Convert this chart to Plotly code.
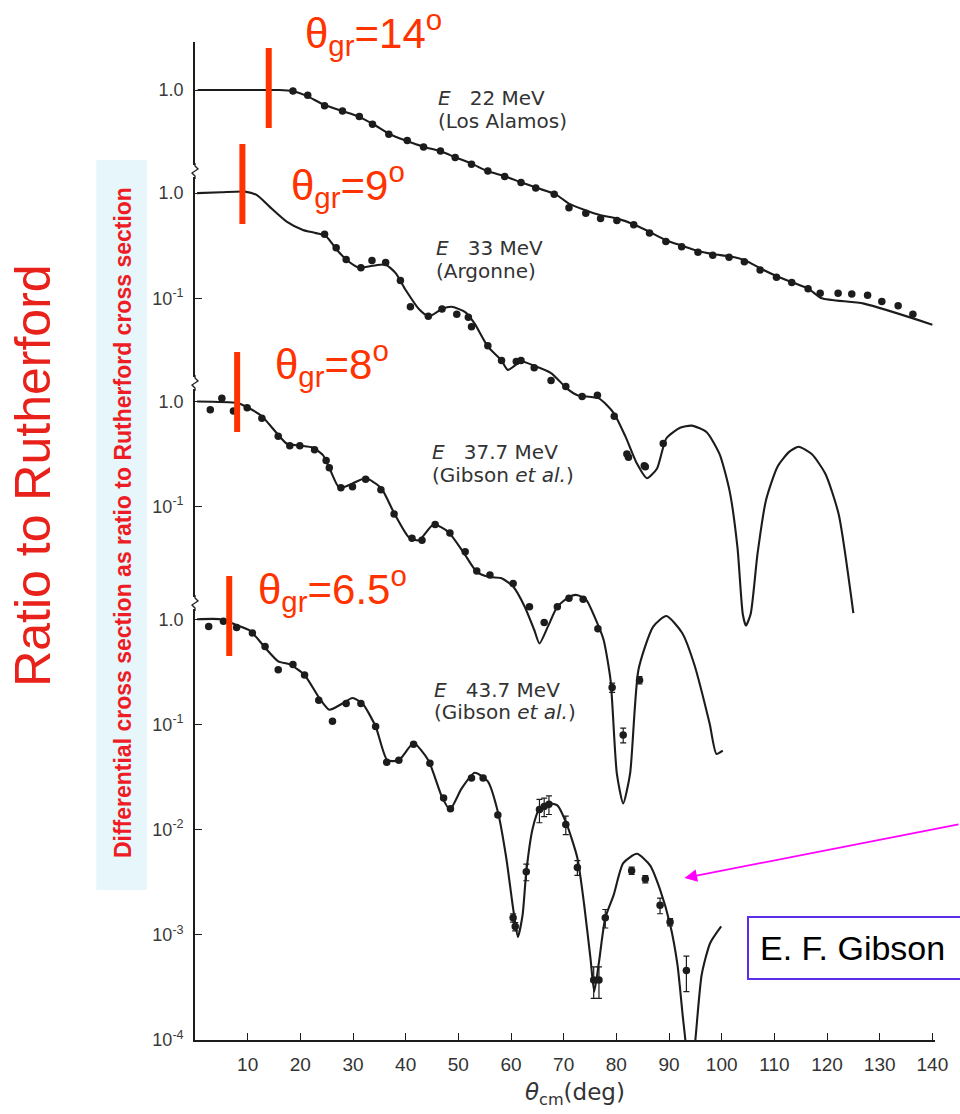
import plotly.graph_objects as go

# ---------------------------------------------------------------------------
# Elastic alpha scattering on 40Ca: ratio of dsigma/dOmega to Rutherford
# Each energy is drawn on one shared log axis, shifted by a number of decades.
# ---------------------------------------------------------------------------

# 22 MeV (Los Alamos)
th_22_fit = [0.5, 10, 16, 18.5, 21, 24.5, 28, 31, 34, 37, 40, 43.5, 46.5, 49.5, 52.5, 55.5,
             59, 62, 65, 68.5, 71, 74, 77, 80, 83, 86, 89.5, 92.5, 95.5, 98.5, 101.5, 104.5,
             107.5, 110.5, 113.5, 116.5, 119, 127, 140]
r_22_fit = [1.0, 1.0, 1.0, 0.977, 0.891, 0.724, 0.631, 0.562, 0.468, 0.380, 0.331, 0.288,
            0.263, 0.229, 0.200, 0.170, 0.151, 0.132, 0.117, 0.102, 0.0832, 0.0724, 0.0646,
            0.0603, 0.0537, 0.0457, 0.0372, 0.0331, 0.0295, 0.0275, 0.0263, 0.0240, 0.0200,
            0.0170, 0.0148, 0.0129, 0.0105, 0.00933, 0.00589]
th_22_exp = [18.6, 21.4, 24.6, 28.0, 31.2, 33.7, 36.8, 40.3, 43.4, 46.6, 49.4, 52.5, 55.6,
             58.8, 61.9, 64.7, 68.2, 71.0, 74.2, 77.0, 80.1, 83.3, 86.3, 89.4, 92.4, 95.5,
             98.3, 101.4, 104.3, 107.3, 110.4, 113.3, 116.4, 118.7, 122.1, 124.7, 127.7,
             130.4, 133.5, 136.3]
r_22_exp = [0.98, 0.891, 0.708, 0.634, 0.562, 0.473, 0.380, 0.331, 0.288, 0.263, 0.229,
            0.197, 0.170, 0.151, 0.132, 0.117, 0.102, 0.0759, 0.0676, 0.0603, 0.0575,
            0.0525, 0.0437, 0.0363, 0.0324, 0.0288, 0.0269, 0.0257, 0.0234, 0.0195, 0.0166,
            0.0148, 0.0129, 0.0117, 0.0117, 0.0115, 0.0112, 0.00977, 0.00891, 0.00741]

# 33 MeV (Argonne)
th_33_fit = [0.4, 5, 9.5, 11.7, 14.2, 17.4, 20.5, 23.0, 24.9, 26.8, 28.7, 31.2, 33.7, 36.2,
             38.1, 40.0, 42.5, 44.4, 46.9, 48.7, 51.3, 53.1, 55.6, 58.2, 59.4, 61.9, 64.4,
             67.6, 70.7, 72.6, 76.7, 79.5, 81.7, 83.9, 85.8, 87.7, 89.5, 92.1, 94.3, 97.1,
             99.6, 101.5, 103.0, 104.0, 104.6, 105.5, 106.8, 108.4, 110.6, 112.8, 114.6,
             117.1, 119.7, 122.2, 125.0]
r_33_fit = [1.0, 1.02, 1.035, 0.963, 0.741, 0.537, 0.447, 0.417, 0.389, 0.295, 0.234,
            0.195, 0.204, 0.209, 0.174, 0.120, 0.0794, 0.0676, 0.0794, 0.0832, 0.0741,
            0.0575, 0.0347, 0.0257, 0.0209, 0.0251, 0.0229, 0.0195, 0.0138, 0.0120, 0.0112,
            0.00813, 0.00490, 0.00269, 0.00195, 0.00240, 0.00468, 0.00589, 0.00617, 0.00537,
            0.00331, 0.00148, 0.000427, 0.0001, 0.0000776, 0.0001, 0.000372, 0.00120,
            0.00251, 0.00347, 0.00389, 0.00331, 0.00214, 0.000891, 0.000102]
th_33_exp = [24.6, 26.8, 28.7, 31.5, 33.6, 36.2, 39.0, 40.9, 44.3, 46.9, 49.7, 51.9, 52.5,
             55.6, 58.2, 61.0, 61.9, 64.4, 67.6, 70.4, 73.5, 76.4, 79.6, 82.0, 82.3, 85.3,
             85.5, 88.9]
r_33_exp = [0.407, 0.302, 0.234, 0.195, 0.229, 0.219, 0.148, 0.0832, 0.0676, 0.0794, 0.0708,
            0.0661, 0.0537, 0.0355, 0.0257, 0.0251, 0.0257, 0.0219, 0.0166, 0.0145, 0.0117,
            0.0120, 0.00759, 0.00331, 0.00309, 0.00257, 0.00251, 0.00417]

# 37.7 MeV (Gibson et al.)
th_37_fit = [0.4, 8.0, 10.1, 12.7, 15.5, 17.4, 19.9, 22.4, 24.3, 25.5, 27.4, 29.9, 32.4,
             35.3, 37.8, 40.6, 42.5, 45.3, 48.1, 50.9, 53.5, 56.0, 58.2, 60.4, 62.6, 64.4,
             65.4, 67.0, 68.8, 70.7, 72.3, 74.2, 76.4, 77.6, 78.9, 80.1, 81.3, 82.6, 84.2,
             87.0, 89.5, 92.5, 94.8, 97.7, 99.0, 100.2]
r_37_fit = [1.0, 0.966, 0.871, 0.724, 0.501, 0.398, 0.380, 0.363, 0.309, 0.234, 0.151,
            0.166, 0.186, 0.151, 0.0871, 0.0513, 0.0479, 0.0676, 0.0575, 0.0372, 0.0240,
            0.0214, 0.0209, 0.0174, 0.0112, 0.00676, 0.00501, 0.00724, 0.0112, 0.0135,
            0.0145, 0.0132, 0.00776, 0.00537, 0.00224, 0.000288, 0.000151, 0.000288,
            0.00282, 0.00724, 0.00912, 0.0063, 0.00316, 0.000871, 0.000447, 0.000479]
th_37_exp = [2.9, 5.1, 7.3, 9.9, 12.7, 15.8, 18.0, 19.9, 22.7, 24.9, 25.5, 27.7, 29.9, 32.4,
             35.3, 37.8, 41.2, 43.1, 45.6, 48.4, 51.3, 53.5, 56.0, 60.4, 63.5, 66.3, 68.8,
             71.0, 73.7, 76.5, 79.2, 81.3, 84.4]
r_37_exp = [0.832, 1.07, 0.813, 0.871, 0.692, 0.468, 0.380, 0.380, 0.347, 0.275, 0.234,
            0.151, 0.155, 0.182, 0.145, 0.0851, 0.0501, 0.0479, 0.0676, 0.0562, 0.0372,
            0.0245, 0.0224, 0.0186, 0.0112, 0.00794, 0.0112, 0.0135, 0.0132, 0.00692,
            0.00191, 0.000676, 0.00224]
err_37_exp = [0] * 30 + [0.10, 0.16, 0.08]

# 43.7 MeV (Gibson et al.)
th_43_fit = [0.4, 4.8, 7.6, 10.5, 13.3, 15.8, 18.0, 20.8, 23.6, 25.5, 28.0, 29.9, 31.8,
             34.3, 36.5, 38.7, 41.5, 44.3, 46.9, 48.4, 50.6, 53.1, 55.6, 57.5, 59.1, 60.4,
             61.3, 62.2, 62.9, 64.1, 65.4, 67.0, 68.8, 70.5, 72.6, 73.9, 75.1, 75.8, 76.7,
             77.9, 79.5, 81.3, 83.9, 86.4, 88.3, 90.2, 91.6, 92.6, 93.1, 93.9, 95.0, 96.2,
             97.8, 99.9]
r_43_fit = [1.0, 1.0, 0.891, 0.776, 0.537, 0.398, 0.372, 0.295, 0.178, 0.138, 0.158, 0.178,
            0.158, 0.0955, 0.0457, 0.0457, 0.0661, 0.0457, 0.0204, 0.0155, 0.0245, 0.0347,
            0.0288, 0.0148, 0.00537, 0.00178, 0.000955, 0.00155, 0.00398, 0.0102, 0.0158,
            0.0178, 0.0170, 0.0115, 0.00537, 0.00191, 0.000589, 0.000288, 0.000550,
            0.00145, 0.00240, 0.00479, 0.00589, 0.00457, 0.00269, 0.00126, 0.00052,
            0.00017, 0.0001, 0.00003, 0.0001, 0.000417, 0.000832, 0.00120]
th_43_exp = [2.6, 5.4, 7.9, 10.9, 13.3, 15.8, 18.6, 20.8, 23.5, 26.1, 28.7, 31.5, 34.3,
             36.4, 38.7, 41.5, 44.6, 47.2, 48.5, 52.5, 54.7, 57.5, 60.4, 60.8, 62.9, 65.4,
             66.3, 67.2, 70.4, 72.6, 75.7, 76.7, 77.9, 82.9, 85.5, 88.3, 90.2, 93.3]
r_43_exp = [0.851, 0.955, 0.832, 0.741, 0.55, 0.331, 0.372, 0.295, 0.170, 0.107, 0.158,
            0.158, 0.0955, 0.0437, 0.0457, 0.0646, 0.0427, 0.0200, 0.0158, 0.0309, 0.0309,
            0.0138, 0.00145, 0.00120, 0.00398, 0.0155, 0.0166, 0.0174, 0.0112, 0.00437,
            0.000372, 0.000372, 0.00145, 0.00407, 0.00339, 0.00191, 0.00132, 0.000457]
err_43_exp = [0] * 22 + [0.09, 0.09, 0.18, 0.25, 0.20, 0.20, 0.20, 0.16, 0.33, 0.33, 0.20,
                         0.08, 0.08, 0.17, 0.08, 0.37]

# decade shift applied to each energy on the shared axis
shift_22, shift_33, shift_37, shift_43 = 5.03, 4.05, 2.07, 0.0

NB = "\u00a0"
energy_lines = [("<i>E</i>" + NB * 3 + "22 MeV", "(Los Alamos)"),
                ("<i>E</i>" + NB * 3 + "33 MeV", "(Argonne)"),
                ("<i>E</i>" + NB * 3 + "37.7 MeV", "(Gibson <i>et al.</i>)"),
                ("<i>E</i>" + NB * 3 + "43.7 MeV", "(Gibson <i>et al.</i>)")]
grazing_angles = [14, 9, 8, 6.5]
grazing_texts = ["14", "9", "8", "6.5"]

x_ticks = list(range(10, 150, 10))
y_tick_text = ["1.0", "1.0", "10<sup>-1</sup>", "1.0", "10<sup>-1</sup>", "1.0",
               "10<sup>-1</sup>", "10<sup>-2</sup>", "10<sup>-3</sup>", "10<sup>-4</sup>"]

# ---------------------------------------------------------------------------
W, H = 960, 1114
ML, MR, MT, MB = 194.5, 19.4, 42, 74
X_RANGE = [0, 140.5]
Y_RANGE = [-4, 5.487]
INK = "#1c1c1c"
RED = "#FF3300"


def fx(px):
    return (px - ML) / (W - ML - MR)


def fy(py):
    return (H - MB - py) / (H - MT - MB)


fig = go.Figure()

series = [
    (th_22_fit, r_22_fit, th_22_exp, r_22_exp, None, shift_22),
    (th_33_fit, r_33_fit, th_33_exp, r_33_exp, None, shift_33),
    (th_37_fit, r_37_fit, th_37_exp, r_37_exp, err_37_exp, shift_37),
    (th_43_fit, r_43_fit, th_43_exp, r_43_exp, err_43_exp, shift_43),
]

for th_f, r_f, th_e, r_e, err, shift in series:
    k = 10 ** shift
    fig.add_trace(go.Scatter(
        x=th_f, y=[v * k for v in r_f], mode="lines",
        line=dict(color=INK, width=2.1, shape="spline", smoothing=0.6),
        hoverinfo="skip", showlegend=False))
    yv = [v * k for v in r_e]
    ey = None
    if err is not None:
        ey = dict(type="data", array=[y * e for y, e in zip(yv, err)],
                  arrayminus=[y * e for y, e in zip(yv, err)],
                  color=INK, thickness=1.2, width=3, visible=True)
    fig.add_trace(go.Scatter(
        x=th_e, y=yv, mode="markers",
        marker=dict(color=INK, size=7.5), error_y=ey,
        hoverinfo="skip", showlegend=False))

y_tick_vals = [10 ** shift_22, 10 ** shift_33, 10 ** (shift_33 - 1), 10 ** shift_37,
               10 ** (shift_37 - 1), 1, 0.1, 0.01, 0.001, 0.0001]

shapes = []
# light blue strip behind the original axis title
shapes.append(dict(type="rect", xref="paper", yref="paper",
                   x0=fx(95), x1=fx(146), y0=fy(890), y1=fy(160),
                   fillcolor="#e6f6fb", line=dict(width=0), layer="below"))

# axis breaks between the stacked panels
for py in (171, 383, 603):
    shapes.append(dict(type="rect", xref="paper", yref="paper",
                       xsizemode="pixel", ysizemode="pixel",
                       xanchor=0, yanchor=fy(py),
                       x0=-2, x1=2, y0=-6, y1=6,
                       fillcolor="white", line=dict(width=0), layer="above"))
    shapes.append(dict(type="path", xref="paper", yref="paper",
                       xsizemode="pixel", ysizemode="pixel",
                       xanchor=0, yanchor=fy(py),
                       path="M0,-8 L0,-5 L-3,-2 L3,2 L0,5 L0,8",
                       line=dict(color=INK, width=1.3), layer="above"))

# grazing-angle markers
bar_spans = [(48, 128), (144, 224), (352, 432), (576, 656)]
for ang, (top, bot) in zip(grazing_angles, bar_spans):
    shapes.append(dict(type="line", xref="x", yref="paper",
                       x0=ang, x1=ang, y0=fy(bot), y1=fy(top),
                       line=dict(color=RED, width=6), layer="above"))

annotations = []
grazing_pos = [(303, 33), (289, 185), (273, 363), (256, 588)]
for txt, (lx, cy) in zip(grazing_texts, grazing_pos):
    annotations.append(dict(
        xref="paper", yref="paper", x=fx(lx), y=fy(cy), xanchor="left", yanchor="middle",
        text="θ<sub>gr</sub>=" + txt + "<sup>o</sup>", showarrow=False,
        font=dict(family="Liberation Sans, Arial", size=42, color=RED)))

label_pos = [(437, 98, 121), (435, 248, 271), (431, 452, 475), (433, 690, 712)]
for (l1, l2), (lx, y1, y2) in zip(energy_lines, label_pos):
    for txt, cy in ((l1, y1), (l2, y2)):
        annotations.append(dict(
            xref="paper", yref="paper", x=fx(lx), y=fy(cy), xanchor="left",
            yanchor="middle", align="left", text=txt, showarrow=False,
            font=dict(family="DejaVu Sans", size=20, color="#333333")))

annotations.append(dict(
    xref="paper", yref="paper", x=fx(31), y=fy(476), xanchor="center", yanchor="middle",
    text="Ratio to Rutherford", textangle=-90, showarrow=False,
    font=dict(family="Liberation Sans, Arial", size=50, color="#E8211A")))

annotations.append(dict(
    xref="paper", yref="paper", x=fx(122), y=fy(523), xanchor="center", yanchor="middle",
    text="<b>Differential cross section as ratio to Rutherford cross section</b>",
    textangle=-90, showarrow=False,
    font=dict(family="Liberation Sans, Arial", size=23, color="#EE1C24")))

annotations.append(dict(
    xref="paper", yref="paper", x=fx(578), y=fy(1094), xanchor="center", yanchor="middle",
    text="<i>θ</i><sub>cm</sub>(deg)", showarrow=False,
    font=dict(family="DejaVu Sans", size=23, color="#333333")))

# pointer to the 43.7 MeV data near 85 degrees
annotations.append(dict(
    xref="paper", yref="paper", x=fx(688), y=fy(878), ax=290, ay=-54,
    axref="pixel", ayref="pixel", text="", showarrow=True,
    arrowhead=2, arrowsize=1.4, arrowwidth=1.8, arrowcolor="#FF00FF"))

annotations.append(dict(
    xref="paper", yref="paper", x=fx(751), y=fy(916), xanchor="left", yanchor="top",
    text="E. F. Gibson", showarrow=False, align="left", width=260,
    bordercolor="#5B2EEA", borderwidth=2, borderpad=11, bgcolor="white",
    font=dict(family="Liberation Sans, Arial", size=34, color="black")))

fig.update_layout(
    width=W, height=H,
    margin=dict(l=ML, r=MR, t=MT, b=MB, pad=0),
    paper_bgcolor="white", plot_bgcolor="white",
    showlegend=False,
    shapes=shapes, annotations=annotations,
    xaxis=dict(range=X_RANGE, tickvals=x_ticks, ticktext=[str(t) for t in x_ticks],
               ticks="inside", ticklen=7, tickwidth=1.2, tickcolor=INK,
               showline=True, linecolor=INK, linewidth=1.6, showgrid=False, zeroline=False,
               tickfont=dict(family="Liberation Sans, Arial", size=19, color="#333333"),
               ticklabelstandoff=6),
    yaxis=dict(type="log", range=Y_RANGE, tickvals=y_tick_vals, ticktext=y_tick_text,
               ticks="inside", ticklen=7, tickwidth=1.2, tickcolor=INK,
               showline=True, linecolor=INK, linewidth=1.6, showgrid=False, zeroline=False,
               tickfont=dict(family="Liberation Sans, Arial", size=18, color="#3a3a3a"),
               ticklabelstandoff=6),
)

fig.write_html("out.html")
